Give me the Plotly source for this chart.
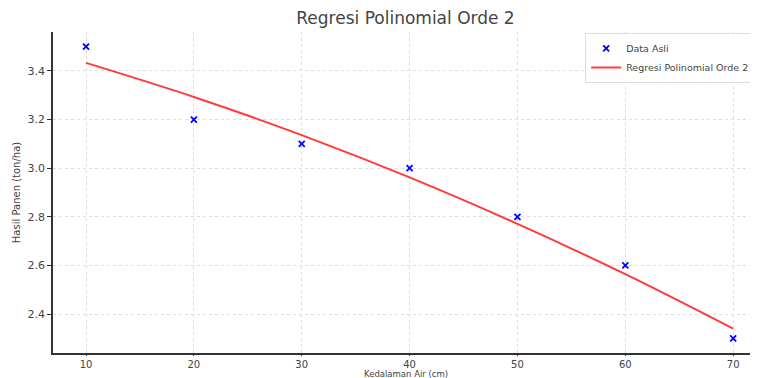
import plotly.graph_objects as go

kedalaman = [10, 20, 30, 40, 50, 60, 70]
panen = [3.5, 3.2, 3.1, 3.0, 2.8, 2.6, 2.3]
regresi = [3.433, 3.293, 3.136, 2.962, 2.771, 2.564, 2.340]

FONT = "DejaVu Sans"

fig = go.Figure()
fig.add_trace(go.Scatter(
    x=kedalaman, y=panen, mode="markers", name="Data Asli",
    marker=dict(symbol="x-thin", size=6, color="blue", line=dict(color="blue", width=1.8)),
))
fig.add_trace(go.Scatter(
    x=kedalaman, y=regresi, mode="lines", name="Regresi Polinomial Orde 2",
    line=dict(color="#ff3b3b", width=2, shape="spline"),
))

# page body has an 8px margin: figure is sized/offset to compensate
fig.update_layout(
    width=750, height=370,
    margin=dict(l=45, r=0, t=24, b=25, autoexpand=False),
    paper_bgcolor="white", plot_bgcolor="white",
    font=dict(family=FONT, color="#333333"),
    title=dict(text="Regresi Polinomial Orde 2", x=0.5, xref="paper", xanchor="center",
               y=0.973, yref="container", yanchor="middle", automargin=False,
               font=dict(size=17, color="#444444", family=FONT)),
    showlegend=True,
    legend=dict(x=0.996, y=0.997, xanchor="right", yanchor="top",
                bgcolor="rgba(255,255,255,0.9)", bordercolor="#dddddd", borderwidth=1,
                font=dict(size=9.5, color="#444444", family=FONT), tracegroupgap=0,
                itemwidth=30),
    annotations=[dict(text="Kedalaman Air (cm)", xref="paper", yref="paper", x=0.5, y=0,
                      xanchor="center", yanchor="middle", yshift=-21, showarrow=False,
                      font=dict(size=8.5, color="#444444", family=FONT))],
)
fig.update_xaxes(
    range=[6.94, 72.3], tickvals=[10, 20, 30, 40, 50, 60, 70],
    showgrid=True, gridcolor="#dddddd", griddash="dot", gridwidth=1,
    showline=True, linecolor="#333333", linewidth=1.5, mirror=False,
    ticks="outside", ticklen=1, tickcolor="#333333", automargin=False,
    tickfont=dict(size=10, color="#444444"), zeroline=False,
)
fig.update_yaxes(
    range=[2.24, 3.56], tickvals=[2.4, 2.6, 2.8, 3.0, 3.2, 3.4],
    ticktext=["2.4", "2.6", "2.8", "3.0", "3.2", "3.4"],
    showgrid=True, gridcolor="#dddddd", griddash="dot", gridwidth=1,
    showline=True, linecolor="#333333", linewidth=1.5, mirror=False,
    ticks="outside", ticklen=4, tickcolor="#333333", automargin=False,
    tickfont=dict(size=11, color="#444444"), zeroline=False,
    title=dict(text="Hasil Panen (ton/ha)", font=dict(size=10, color="#444444"), standoff=5),
)

fig.write_html("out.html")
